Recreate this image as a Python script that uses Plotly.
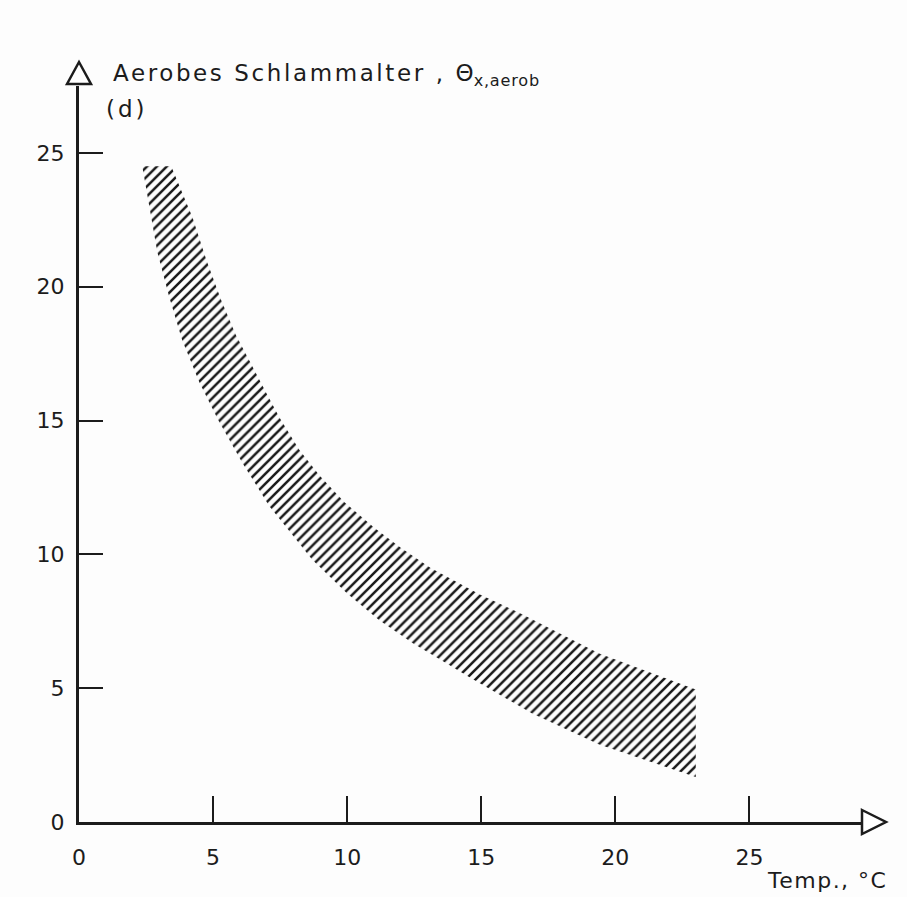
import plotly.graph_objects as go

# Upper boundary of the hatched band: temperature (°C) vs. aerobic sludge age (d)
temp_upper = [3.44, 3.74, 4.23, 4.75, 5.3, 5.85, 6.36, 7.0, 7.48, 8.22, 8.97,
              9.9, 11.0, 12.0, 13.1, 14.95, 16.45, 19.4, 23.0]
age_upper = [24.5, 23.8, 22.6, 21.0, 19.5, 18.2, 17.2, 16.0, 15.1, 13.9, 12.95,
             11.95, 11.0, 10.25, 9.5, 8.5, 7.8, 6.3, 4.95]

# Lower boundary of the hatched band
temp_lower = [2.36, 2.92, 3.37, 3.85, 4.5, 5.2, 6.1, 7.1, 8.7, 10.0, 11.2,
              12.45, 13.7, 14.5, 16.9, 19.4, 23.0]
age_lower = [24.5, 21.3, 19.6, 18.0, 16.4, 15.0, 13.4, 11.8, 9.8, 8.54, 7.54,
             6.68, 5.93, 5.45, 4.05, 2.9, 1.68]

x_ticks = [0, 5, 10, 15, 20, 25]
y_ticks = [0, 5, 10, 15, 20, 25]

x_title = "Temp., °C"
y_title_main = "Aerobes Schlammalter ,"
y_title_sym = "Θ"
y_title_sub = "x,aerob"
y_unit = "(d)"

# page geometry (pixels)
W, H = 907, 897
L, T, PW, PH = 79, 86, 783, 736
R = W - L - PW
B = H - T - PH

INK = "#1c1c1c"
FONT = "DejaVu Sans"


def px(xp):
    return (xp - L) / PW


def py(yp):
    return (T + PH - yp) / PH


# closed polygon: down the lower edge, back up along the upper edge
band_x = temp_lower + temp_upper[::-1]
band_y = age_lower + age_upper[::-1]

fig = go.Figure()
fig.add_trace(go.Scatter(
    x=band_x, y=band_y, mode="lines", fill="toself",
    line=dict(width=0, color="rgba(0,0,0,0)"),
    fillcolor="rgba(0,0,0,0)",
    fillpattern=dict(shape="/", size=7, solidity=0.36, fgopacity=1,
                     fgcolor="#181818", bgcolor="rgba(0,0,0,0)"),
    hoverinfo="skip", showlegend=False,
))

axis_common = dict(
    showline=True, linecolor=INK, linewidth=3,
    ticks="inside", tickwidth=1.6, tickcolor=INK,
    showgrid=False, zeroline=False,
    tickfont=dict(family=FONT, size=22, color=INK),
)

fig.update_xaxes(range=[0, 29.2], tickvals=x_ticks, ticklen=26,
                 ticklabelstandoff=14, **axis_common)
fig.update_yaxes(range=[0, 27.5], tickvals=y_ticks, ticklen=24,
                 ticklabelstandoff=7, **axis_common)

# open arrow heads at the ends of both axes
ax_x, ax_y = L, T + PH
shapes = [
    dict(type="path", xref="paper", yref="paper",
         path=f"M {px(ax_x - 12)} {py(84)} L {px(ax_x)} {py(62)} "
              f"L {px(ax_x + 12)} {py(84)} Z",
         line=dict(color=INK, width=2.5), fillcolor="white"),
    dict(type="path", xref="paper", yref="paper",
         path=f"M {px(L + PW)} {py(ax_y - 12)} L {px(886)} {py(ax_y)} "
              f"L {px(L + PW)} {py(ax_y + 12)} Z",
         line=dict(color=INK, width=2.5), fillcolor="white"),
]

y_title_html = (
    f'<span style="letter-spacing:2.6px">{y_title_main} </span>'
    f'{y_title_sym}<sub><span style="letter-spacing:0.8px">{y_title_sub}</span></sub>'
)

annotations = [
    dict(xref="paper", yref="paper", x=px(111), y=py(75),
         xanchor="left", yanchor="middle", showarrow=False,
         text=y_title_html,
         font=dict(family=FONT, size=23, color=INK)),
    dict(xref="paper", yref="paper", x=px(104), y=py(109),
         xanchor="left", yanchor="middle", showarrow=False,
         text=f'<span style="letter-spacing:3px">{y_unit}</span>',
         font=dict(family=FONT, size=23, color=INK)),
    dict(xref="paper", yref="paper", x=px(889), y=py(880),
         xanchor="right", yanchor="middle", showarrow=False,
         text=f'<span style="letter-spacing:1.5px">{x_title}</span>',
         font=dict(family=FONT, size=22, color=INK)),
]

fig.update_layout(
    width=W, height=H,
    margin=dict(l=L, r=R, t=T, b=B, pad=0),
    paper_bgcolor="#fdfdfd", plot_bgcolor="rgba(0,0,0,0)",
    shapes=shapes, annotations=annotations,
    showlegend=False,
)

fig.write_html("out.html", config={"displayModeBar": False})
